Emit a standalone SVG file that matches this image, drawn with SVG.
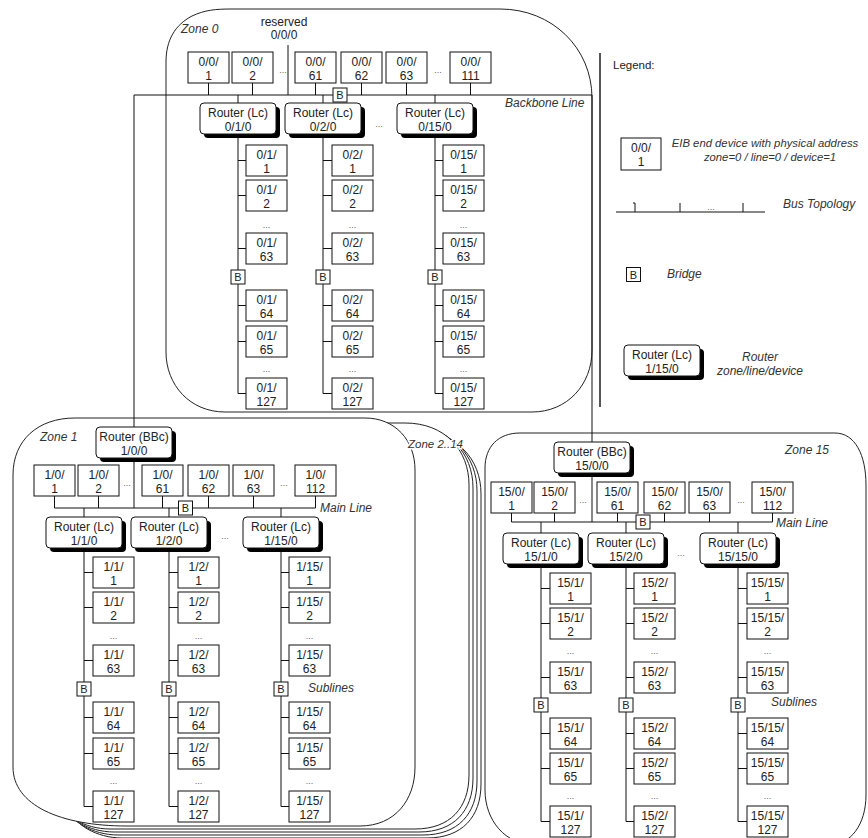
<svg xmlns="http://www.w3.org/2000/svg" xmlns:xlink="http://www.w3.org/1999/xlink" width="868" height="838" viewBox="0 0 868 838">
<style>
.zone{fill:#fff;stroke:#222;stroke-width:1}
.ln{fill:none;stroke:#111;stroke-width:1}
.bx{fill:#fff;stroke:#111;stroke-width:1}
.t{font-family:"Liberation Sans",Arial,sans-serif;font-size:12px;fill:#222;text-anchor:middle}
.tb{font-family:"Liberation Sans",Arial,sans-serif;font-size:11px;fill:#222;text-anchor:middle}
.it{font-family:"Liberation Sans",Arial,sans-serif;font-size:12px;font-style:italic;fill:#333}
.dt{font-family:"Liberation Sans",Arial,sans-serif;font-size:9px;fill:#666;text-anchor:middle}
</style>
<defs>
<g id="rt"><rect x="4" y="4" width="76" height="31" rx="4" fill="#000"/><rect x="0" y="0" width="76" height="31" rx="4" fill="#fff" stroke="#111"/></g>
<rect id="dv" width="41" height="31" class="bx"/>
<rect id="br" x="-7" y="-7" width="14" height="14" class="bx"/>
</defs>
<rect width="868" height="838" fill="#fff"/>

<g id="zones">
<path id="zone0" class="zone" d="M166,62 C166,40 175,25 192,16 C205,10 215,9 232,9 L500,9 C552,9 592,48 592,98 L592,350 C592,385 567,412 532,412 L225,412 C190,412 166,385 166,352 Z"/>
<path class="zone" d="M72,809 L72,432 L417,432 C457,432 481,459 481,494 L481,784 C481,817 462,838 427,838 L122,838 C97,838 72,824 72,809 Z"/>
<path class="zone" d="M68,806 L68,429 L413,429 C453,429 477,456 477,491 L477,781 C477,814 458,835 423,835 L118,835 C93,835 68,821 68,806 Z"/>
<path class="zone" d="M64,803 L64,426 L409,426 C449,426 473,453 473,488 L473,778 C473,811 454,832 419,832 L114,832 C89,832 64,818 64,803 Z"/>
<path class="zone" d="M60,800 L60,423 L405,423 C445,423 469,450 469,485 L469,775 C469,808 450,829 415,829 L110,829 C85,829 60,815 60,800 Z"/>
<path id="zone1" class="zone" d="M13,475 C13,440 38,418 75,418 L365,418 C395,418 415,440 415,470 L415,767 C415,800 395,826 360,826 L127,826 C60,826 13,805 13,767 Z"/>
<path id="zone15" class="zone" d="M485,468 C485,447 498,433 520,433 L835,433 C855,433 866,455 866,485 L866,795 C866,825 850,845 830,845 L535,845 C505,845 485,820 485,790 Z"/>
<text class="it" x="181" y="33">Zone 0</text>
<text class="it" x="40" y="441">Zone 1</text>
<text class="it" x="408" y="448" style="font-size:11.5px" paint-order="stroke" stroke="#fff" stroke-width="3">Zone 2..14</text>
<text class="it" x="785" y="454">Zone 15</text>
<text class="it" x="505" y="107">Backbone Line</text>
<text class="it" x="320" y="512">Main Line</text>
<text class="it" x="776" y="527">Main Line</text>
<text class="it" x="308" y="692">Sublines</text>
<text class="it" x="771" y="706">Sublines</text>
<text class="t" x="284" y="26">reserved</text>
<text class="t" x="284" y="39">0/0/0</text>
</g>

<g id="connectors">
<path class="ln" d="M134,427 V95 H592 V442"/>
<path class="ln" d="M288,45 V95" stroke-width="2"/>
<path class="ln" d="M208.5,83 V95 M252.5,83 V95 M315.5,83 V95 M361.5,83 V95 M406.5,83 V95 M470.5,83 V95 M238,95 V103 M323,95 V103 M435,95 V103"/>
<path class="ln" d="M238,134 V393.5 H246 M238,160.5 H246 M238,195.5 H246 M238,248.5 H246 M238,305.5 H246 M238,341.5 H246"/>
<path class="ln" d="M323,134 V393.5 H332 M323,160.5 H332 M323,195.5 H332 M323,248.5 H332 M323,305.5 H332 M323,341.5 H332"/>
<path class="ln" d="M435,134 V393.5 H443 M435,160.5 H443 M435,195.5 H443 M435,248.5 H443 M435,305.5 H443 M435,341.5 H443"/>
<path class="ln" d="M134,458 V508 M54.5,508 H315.5 M54.5,496 V508 M98.5,496 V508 M162.5,496 V508 M208.5,496 V508 M253.5,496 V508 M315.5,496 V508 M84,508 V517 M169,508 V517 M281,508 V517"/>
<path class="ln" d="M84,548 V806.5 H93 M84,572.5 H93 M84,607.5 H93 M84,660.5 H93 M84,717.5 H93 M84,753.5 H93"/>
<path class="ln" d="M169,548 V806.5 H178 M169,572.5 H178 M169,607.5 H178 M169,660.5 H178 M169,717.5 H178 M169,753.5 H178"/>
<path class="ln" d="M281,548 V806.5 H289 M281,572.5 H289 M281,607.5 H289 M281,660.5 H289 M281,717.5 H289 M281,753.5 H289"/>
<path class="ln" d="M592,473 V522 M511.5,522 H772.5 M511.5,513 V522 M554.5,513 V522 M617.5,513 V522 M664.5,513 V522 M709.5,513 V522 M772.5,513 V522 M541,522 V533 M626,522 V533 M738,522 V533"/>
<path class="ln" d="M541,564 V821.5 H550 M541,588.5 H550 M541,623.5 H550 M541,677.5 H550 M541,733.5 H550 M541,768.5 H550"/>
<path class="ln" d="M626,564 V821.5 H634 M626,588.5 H634 M626,623.5 H634 M626,677.5 H634 M626,733.5 H634 M626,768.5 H634"/>
<path class="ln" d="M738,564 V821.5 H747 M738,588.5 H747 M738,623.5 H747 M738,677.5 H747 M738,733.5 H747 M738,768.5 H747"/>
</g>

<g id="dots">
<text class="dt" x="283" y="73">...</text><text class="dt" x="438" y="73">...</text><text class="dt" x="379" y="127">...</text>
<text class="dt" x="266.5" y="228">...</text><text class="dt" x="352.5" y="228">...</text><text class="dt" x="463.5" y="228">...</text>
<text class="dt" x="266.5" y="372">...</text><text class="dt" x="352.5" y="372">...</text><text class="dt" x="463.5" y="372">...</text>
<text class="dt" x="127" y="486">...</text><text class="dt" x="284" y="486">...</text><text class="dt" x="225" y="539">...</text>
<text class="dt" x="113.5" y="639">...</text><text class="dt" x="198.5" y="639">...</text><text class="dt" x="309.5" y="639">...</text>
<text class="dt" x="113.5" y="784">...</text><text class="dt" x="198.5" y="784">...</text><text class="dt" x="309.5" y="784">...</text>
<text class="dt" x="583" y="503">...</text><text class="dt" x="741" y="503">...</text><text class="dt" x="681" y="556">...</text>
<text class="dt" x="570.5" y="654">...</text><text class="dt" x="654.5" y="654">...</text><text class="dt" x="767.5" y="654">...</text>
<text class="dt" x="570.5" y="799">...</text><text class="dt" x="654.5" y="799">...</text><text class="dt" x="767.5" y="799">...</text>
</g>

<!-- Zone 0 backbone devices -->
<g id="d-0-0-1"><use xlink:href="#dv" x="188" y="52"/><text class="t" x="208.5" y="65.5">0/0/<tspan x="208.5" dy="14">1</tspan></text></g>
<g id="d-0-0-2"><use xlink:href="#dv" x="232" y="52"/><text class="t" x="252.5" y="65.5">0/0/<tspan x="252.5" dy="14">2</tspan></text></g>
<g id="d-0-0-61"><use xlink:href="#dv" x="295" y="52"/><text class="t" x="315.5" y="65.5">0/0/<tspan x="315.5" dy="14">61</tspan></text></g>
<g id="d-0-0-62"><use xlink:href="#dv" x="341" y="52"/><text class="t" x="361.5" y="65.5">0/0/<tspan x="361.5" dy="14">62</tspan></text></g>
<g id="d-0-0-63"><use xlink:href="#dv" x="386" y="52"/><text class="t" x="406.5" y="65.5">0/0/<tspan x="406.5" dy="14">63</tspan></text></g>
<g id="d-0-0-111"><use xlink:href="#dv" x="450" y="52"/><text class="t" x="470.5" y="65.5">0/0/<tspan x="470.5" dy="14">111</tspan></text></g>
<g id="b-0-0"><use xlink:href="#br" x="340" y="95"/><text class="tb" x="340" y="99">B</text></g>

<g id="r-0-1-0"><use xlink:href="#rt" x="200" y="103"/><text class="t" x="238" y="116.5">Router (Lc)<tspan x="238" dy="14">0/1/0</tspan></text></g>
<g id="r-0-2-0"><use xlink:href="#rt" x="285" y="103"/><text class="t" x="323" y="116.5">Router (Lc)<tspan x="323" dy="14">0/2/0</tspan></text></g>
<g id="r-0-15-0"><use xlink:href="#rt" x="397" y="103"/><text class="t" x="435" y="116.5">Router (Lc)<tspan x="435" dy="14">0/15/0</tspan></text></g>

<!-- Zone 0 line 1 -->
<g id="d-0-1-1"><use xlink:href="#dv" x="246" y="145"/><text class="t" x="266.5" y="158.5">0/1/<tspan x="266.5" dy="14">1</tspan></text></g>
<g id="d-0-1-2"><use xlink:href="#dv" x="246" y="180"/><text class="t" x="266.5" y="193.5">0/1/<tspan x="266.5" dy="14">2</tspan></text></g>
<g id="d-0-1-63"><use xlink:href="#dv" x="246" y="233"/><text class="t" x="266.5" y="246.5">0/1/<tspan x="266.5" dy="14">63</tspan></text></g>
<g id="b-0-1"><use xlink:href="#br" x="238" y="277"/><text class="tb" x="238" y="281">B</text></g>
<g id="d-0-1-64"><use xlink:href="#dv" x="246" y="290"/><text class="t" x="266.5" y="303.5">0/1/<tspan x="266.5" dy="14">64</tspan></text></g>
<g id="d-0-1-65"><use xlink:href="#dv" x="246" y="326"/><text class="t" x="266.5" y="339.5">0/1/<tspan x="266.5" dy="14">65</tspan></text></g>
<g id="d-0-1-127"><use xlink:href="#dv" x="246" y="378"/><text class="t" x="266.5" y="391.5">0/1/<tspan x="266.5" dy="14">127</tspan></text></g>
<!-- Zone 0 line 2 -->
<g id="d-0-2-1"><use xlink:href="#dv" x="332" y="145"/><text class="t" x="352.5" y="158.5">0/2/<tspan x="352.5" dy="14">1</tspan></text></g>
<g id="d-0-2-2"><use xlink:href="#dv" x="332" y="180"/><text class="t" x="352.5" y="193.5">0/2/<tspan x="352.5" dy="14">2</tspan></text></g>
<g id="d-0-2-63"><use xlink:href="#dv" x="332" y="233"/><text class="t" x="352.5" y="246.5">0/2/<tspan x="352.5" dy="14">63</tspan></text></g>
<g id="b-0-2"><use xlink:href="#br" x="323" y="277"/><text class="tb" x="323" y="281">B</text></g>
<g id="d-0-2-64"><use xlink:href="#dv" x="332" y="290"/><text class="t" x="352.5" y="303.5">0/2/<tspan x="352.5" dy="14">64</tspan></text></g>
<g id="d-0-2-65"><use xlink:href="#dv" x="332" y="326"/><text class="t" x="352.5" y="339.5">0/2/<tspan x="352.5" dy="14">65</tspan></text></g>
<g id="d-0-2-127"><use xlink:href="#dv" x="332" y="378"/><text class="t" x="352.5" y="391.5">0/2/<tspan x="352.5" dy="14">127</tspan></text></g>
<!-- Zone 0 line 15 -->
<g id="d-0-15-1"><use xlink:href="#dv" x="443" y="145"/><text class="t" x="463.5" y="158.5">0/15/<tspan x="463.5" dy="14">1</tspan></text></g>
<g id="d-0-15-2"><use xlink:href="#dv" x="443" y="180"/><text class="t" x="463.5" y="193.5">0/15/<tspan x="463.5" dy="14">2</tspan></text></g>
<g id="d-0-15-63"><use xlink:href="#dv" x="443" y="233"/><text class="t" x="463.5" y="246.5">0/15/<tspan x="463.5" dy="14">63</tspan></text></g>
<g id="b-0-15"><use xlink:href="#br" x="435" y="277"/><text class="tb" x="435" y="281">B</text></g>
<g id="d-0-15-64"><use xlink:href="#dv" x="443" y="290"/><text class="t" x="463.5" y="303.5">0/15/<tspan x="463.5" dy="14">64</tspan></text></g>
<g id="d-0-15-65"><use xlink:href="#dv" x="443" y="326"/><text class="t" x="463.5" y="339.5">0/15/<tspan x="463.5" dy="14">65</tspan></text></g>
<g id="d-0-15-127"><use xlink:href="#dv" x="443" y="378"/><text class="t" x="463.5" y="391.5">0/15/<tspan x="463.5" dy="14">127</tspan></text></g>

<!-- Zone 1 -->
<g id="r-1-0-0"><use xlink:href="#rt" x="96" y="427"/><text class="t" x="134" y="440.5">Router (BBc)<tspan x="134" dy="14">1/0/0</tspan></text></g>
<g id="d-1-0-1"><use xlink:href="#dv" x="34" y="465"/><text class="t" x="54.5" y="478.5">1/0/<tspan x="54.5" dy="14">1</tspan></text></g>
<g id="d-1-0-2"><use xlink:href="#dv" x="78" y="465"/><text class="t" x="98.5" y="478.5">1/0/<tspan x="98.5" dy="14">2</tspan></text></g>
<g id="d-1-0-61"><use xlink:href="#dv" x="142" y="465"/><text class="t" x="162.5" y="478.5">1/0/<tspan x="162.5" dy="14">61</tspan></text></g>
<g id="d-1-0-62"><use xlink:href="#dv" x="188" y="465"/><text class="t" x="208.5" y="478.5">1/0/<tspan x="208.5" dy="14">62</tspan></text></g>
<g id="d-1-0-63"><use xlink:href="#dv" x="233" y="465"/><text class="t" x="253.5" y="478.5">1/0/<tspan x="253.5" dy="14">63</tspan></text></g>
<g id="d-1-0-112"><use xlink:href="#dv" x="295" y="465"/><text class="t" x="315.5" y="478.5">1/0/<tspan x="315.5" dy="14">112</tspan></text></g>
<g id="b-1-0"><use xlink:href="#br" x="185.5" y="508"/><text class="tb" x="185.5" y="512">B</text></g>
<g id="r-1-1-0"><use xlink:href="#rt" x="46" y="517"/><text class="t" x="84" y="530.5">Router (Lc)<tspan x="84" dy="14">1/1/0</tspan></text></g>
<g id="r-1-2-0"><use xlink:href="#rt" x="131" y="517"/><text class="t" x="169" y="530.5">Router (Lc)<tspan x="169" dy="14">1/2/0</tspan></text></g>
<g id="r-1-15-0"><use xlink:href="#rt" x="243" y="517"/><text class="t" x="281" y="530.5">Router (Lc)<tspan x="281" dy="14">1/15/0</tspan></text></g>

<g id="d-1-1-1"><use xlink:href="#dv" x="93" y="557"/><text class="t" x="113.5" y="570.5">1/1/<tspan x="113.5" dy="14">1</tspan></text></g>
<g id="d-1-1-2"><use xlink:href="#dv" x="93" y="592"/><text class="t" x="113.5" y="605.5">1/1/<tspan x="113.5" dy="14">2</tspan></text></g>
<g id="d-1-1-63"><use xlink:href="#dv" x="93" y="645"/><text class="t" x="113.5" y="658.5">1/1/<tspan x="113.5" dy="14">63</tspan></text></g>
<g id="b-1-1"><use xlink:href="#br" x="84" y="689"/><text class="tb" x="84" y="693">B</text></g>
<g id="d-1-1-64"><use xlink:href="#dv" x="93" y="702"/><text class="t" x="113.5" y="715.5">1/1/<tspan x="113.5" dy="14">64</tspan></text></g>
<g id="d-1-1-65"><use xlink:href="#dv" x="93" y="738"/><text class="t" x="113.5" y="751.5">1/1/<tspan x="113.5" dy="14">65</tspan></text></g>
<g id="d-1-1-127"><use xlink:href="#dv" x="93" y="791"/><text class="t" x="113.5" y="804.5">1/1/<tspan x="113.5" dy="14">127</tspan></text></g>

<g id="d-1-2-1"><use xlink:href="#dv" x="178" y="557"/><text class="t" x="198.5" y="570.5">1/2/<tspan x="198.5" dy="14">1</tspan></text></g>
<g id="d-1-2-2"><use xlink:href="#dv" x="178" y="592"/><text class="t" x="198.5" y="605.5">1/2/<tspan x="198.5" dy="14">2</tspan></text></g>
<g id="d-1-2-63"><use xlink:href="#dv" x="178" y="645"/><text class="t" x="198.5" y="658.5">1/2/<tspan x="198.5" dy="14">63</tspan></text></g>
<g id="b-1-2"><use xlink:href="#br" x="169" y="689"/><text class="tb" x="169" y="693">B</text></g>
<g id="d-1-2-64"><use xlink:href="#dv" x="178" y="702"/><text class="t" x="198.5" y="715.5">1/2/<tspan x="198.5" dy="14">64</tspan></text></g>
<g id="d-1-2-65"><use xlink:href="#dv" x="178" y="738"/><text class="t" x="198.5" y="751.5">1/2/<tspan x="198.5" dy="14">65</tspan></text></g>
<g id="d-1-2-127"><use xlink:href="#dv" x="178" y="791"/><text class="t" x="198.5" y="804.5">1/2/<tspan x="198.5" dy="14">127</tspan></text></g>

<g id="d-1-15-1"><use xlink:href="#dv" x="289" y="557"/><text class="t" x="309.5" y="570.5">1/15/<tspan x="309.5" dy="14">1</tspan></text></g>
<g id="d-1-15-2"><use xlink:href="#dv" x="289" y="592"/><text class="t" x="309.5" y="605.5">1/15/<tspan x="309.5" dy="14">2</tspan></text></g>
<g id="d-1-15-63"><use xlink:href="#dv" x="289" y="645"/><text class="t" x="309.5" y="658.5">1/15/<tspan x="309.5" dy="14">63</tspan></text></g>
<g id="b-1-15"><use xlink:href="#br" x="281" y="689"/><text class="tb" x="281" y="693">B</text></g>
<g id="d-1-15-64"><use xlink:href="#dv" x="289" y="702"/><text class="t" x="309.5" y="715.5">1/15/<tspan x="309.5" dy="14">64</tspan></text></g>
<g id="d-1-15-65"><use xlink:href="#dv" x="289" y="738"/><text class="t" x="309.5" y="751.5">1/15/<tspan x="309.5" dy="14">65</tspan></text></g>
<g id="d-1-15-127"><use xlink:href="#dv" x="289" y="791"/><text class="t" x="309.5" y="804.5">1/15/<tspan x="309.5" dy="14">127</tspan></text></g>

<!-- Zone 15 -->
<g id="r-15-0-0"><use xlink:href="#rt" x="554" y="442"/><text class="t" x="592" y="455.5">Router (BBc)<tspan x="592" dy="14">15/0/0</tspan></text></g>
<g id="d-15-0-1"><use xlink:href="#dv" x="491" y="482"/><text class="t" x="511.5" y="495.5">15/0/<tspan x="511.5" dy="14">1</tspan></text></g>
<g id="d-15-0-2"><use xlink:href="#dv" x="534" y="482"/><text class="t" x="554.5" y="495.5">15/0/<tspan x="554.5" dy="14">2</tspan></text></g>
<g id="d-15-0-61"><use xlink:href="#dv" x="597" y="482"/><text class="t" x="617.5" y="495.5">15/0/<tspan x="617.5" dy="14">61</tspan></text></g>
<g id="d-15-0-62"><use xlink:href="#dv" x="644" y="482"/><text class="t" x="664.5" y="495.5">15/0/<tspan x="664.5" dy="14">62</tspan></text></g>
<g id="d-15-0-63"><use xlink:href="#dv" x="689" y="482"/><text class="t" x="709.5" y="495.5">15/0/<tspan x="709.5" dy="14">63</tspan></text></g>
<g id="d-15-0-112"><use xlink:href="#dv" x="752" y="482"/><text class="t" x="772.5" y="495.5">15/0/<tspan x="772.5" dy="14">112</tspan></text></g>
<g id="b-15-0"><use xlink:href="#br" x="643" y="522"/><text class="tb" x="643" y="526">B</text></g>
<g id="r-15-1-0"><use xlink:href="#rt" x="503" y="533"/><text class="t" x="541" y="546.5">Router (Lc)<tspan x="541" dy="14">15/1/0</tspan></text></g>
<g id="r-15-2-0"><use xlink:href="#rt" x="588" y="533"/><text class="t" x="626" y="546.5">Router (Lc)<tspan x="626" dy="14">15/2/0</tspan></text></g>
<g id="r-15-15-0"><use xlink:href="#rt" x="700" y="533"/><text class="t" x="738" y="546.5">Router (Lc)<tspan x="738" dy="14">15/15/0</tspan></text></g>

<g id="d-15-1-1"><use xlink:href="#dv" x="550" y="573"/><text class="t" x="570.5" y="586.5">15/1/<tspan x="570.5" dy="14">1</tspan></text></g>
<g id="d-15-1-2"><use xlink:href="#dv" x="550" y="608"/><text class="t" x="570.5" y="621.5">15/1/<tspan x="570.5" dy="14">2</tspan></text></g>
<g id="d-15-1-63"><use xlink:href="#dv" x="550" y="662"/><text class="t" x="570.5" y="675.5">15/1/<tspan x="570.5" dy="14">63</tspan></text></g>
<g id="b-15-1"><use xlink:href="#br" x="541" y="705"/><text class="tb" x="541" y="709">B</text></g>
<g id="d-15-1-64"><use xlink:href="#dv" x="550" y="718"/><text class="t" x="570.5" y="731.5">15/1/<tspan x="570.5" dy="14">64</tspan></text></g>
<g id="d-15-1-65"><use xlink:href="#dv" x="550" y="753"/><text class="t" x="570.5" y="766.5">15/1/<tspan x="570.5" dy="14">65</tspan></text></g>
<g id="d-15-1-127"><use xlink:href="#dv" x="550" y="806"/><text class="t" x="570.5" y="819.5">15/1/<tspan x="570.5" dy="14">127</tspan></text></g>

<g id="d-15-2-1"><use xlink:href="#dv" x="634" y="573"/><text class="t" x="654.5" y="586.5">15/2/<tspan x="654.5" dy="14">1</tspan></text></g>
<g id="d-15-2-2"><use xlink:href="#dv" x="634" y="608"/><text class="t" x="654.5" y="621.5">15/2/<tspan x="654.5" dy="14">2</tspan></text></g>
<g id="d-15-2-63"><use xlink:href="#dv" x="634" y="662"/><text class="t" x="654.5" y="675.5">15/2/<tspan x="654.5" dy="14">63</tspan></text></g>
<g id="b-15-2"><use xlink:href="#br" x="626" y="705"/><text class="tb" x="626" y="709">B</text></g>
<g id="d-15-2-64"><use xlink:href="#dv" x="634" y="718"/><text class="t" x="654.5" y="731.5">15/2/<tspan x="654.5" dy="14">64</tspan></text></g>
<g id="d-15-2-65"><use xlink:href="#dv" x="634" y="753"/><text class="t" x="654.5" y="766.5">15/2/<tspan x="654.5" dy="14">65</tspan></text></g>
<g id="d-15-2-127"><use xlink:href="#dv" x="634" y="806"/><text class="t" x="654.5" y="819.5">15/2/<tspan x="654.5" dy="14">127</tspan></text></g>

<g id="d-15-15-1"><use xlink:href="#dv" x="747" y="573"/><text class="t" x="767.5" y="586.5">15/15/<tspan x="767.5" dy="14">1</tspan></text></g>
<g id="d-15-15-2"><use xlink:href="#dv" x="747" y="608"/><text class="t" x="767.5" y="621.5">15/15/<tspan x="767.5" dy="14">2</tspan></text></g>
<g id="d-15-15-63"><use xlink:href="#dv" x="747" y="662"/><text class="t" x="767.5" y="675.5">15/15/<tspan x="767.5" dy="14">63</tspan></text></g>
<g id="b-15-15"><use xlink:href="#br" x="738" y="705"/><text class="tb" x="738" y="709">B</text></g>
<g id="d-15-15-64"><use xlink:href="#dv" x="747" y="718"/><text class="t" x="767.5" y="731.5">15/15/<tspan x="767.5" dy="14">64</tspan></text></g>
<g id="d-15-15-65"><use xlink:href="#dv" x="747" y="753"/><text class="t" x="767.5" y="766.5">15/15/<tspan x="767.5" dy="14">65</tspan></text></g>
<g id="d-15-15-127"><use xlink:href="#dv" x="747" y="806"/><text class="t" x="767.5" y="819.5">15/15/<tspan x="767.5" dy="14">127</tspan></text></g>

<!-- Legend -->
<g id="legend">
<line x1="600" y1="53" x2="600" y2="407" stroke="#555" stroke-width="2"/>
<text x="613" y="69" style="font-family:'Liberation Sans',Arial,sans-serif;font-size:11.5px;fill:#222">Legend:</text>
<rect x="621" y="138" width="40" height="32" class="bx"/>
<text class="t" x="641" y="151.5">0/0/<tspan x="641" dy="14">1</tspan></text>
<text class="it" x="765" y="147" text-anchor="middle" style="font-size:11.3px">EIB end device with physical address</text>
<text class="it" x="770" y="161" text-anchor="middle" style="font-size:11.3px">zone=0 / line=0 / device=1</text>
<path class="ln" d="M616,212 H765 M635,212 V203 H633 M680,212 V203 M743,212 V203"/>
<text class="dt" x="711" y="210">...</text>
<text class="it" x="783" y="208">Bus Topology</text>
<use xlink:href="#br" x="633.5" y="274.5"/><text class="tb" x="633.5" y="278.5">B</text>
<text class="it" x="667" y="278">Bridge</text>
<use xlink:href="#rt" x="624" y="345"/>
<text class="t" x="662" y="358.5">Router (Lc)<tspan x="662" dy="14">1/15/0</tspan></text>
<text class="it" x="760" y="361" text-anchor="middle">Router</text>
<text class="it" x="760" y="375" text-anchor="middle">zone/line/device</text>
</g>
</svg>
